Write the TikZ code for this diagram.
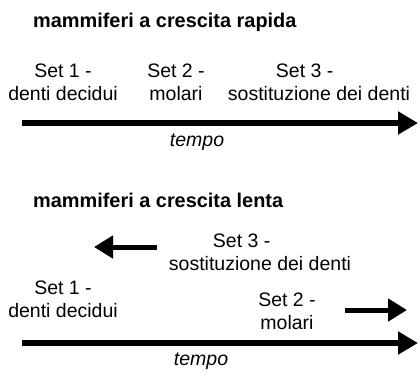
\documentclass[tikz,border=0pt]{standalone}
\usepackage{fontspec}
\setmainfont{Liberation Sans}
\usetikzlibrary{arrows.meta}
\begin{document}
\begin{tikzpicture}[x=1pt,y=-1pt,
  lbl/.style={inner sep=0pt,align=center,font=\fontsize{19.5}{23}\selectfont},
  ttl/.style={inner sep=0pt,anchor=base west,font=\fontsize{19.9}{23}\selectfont\bfseries},
  tmp/.style={inner sep=0pt,font=\fontsize{19.5}{23}\selectfont\itshape},
  bigarrow/.style={line width=5.5pt,-{Triangle[length=20pt,width=22pt]}},
  smallarrow/.style={line width=5pt,-{Triangle[length=19pt,width=22pt]}}]
\useasboundingbox (0,0) rectangle (420,376);
% top panel
\node[ttl] (title1) at (33,27) {mammiferi a crescita rapida};
\node[lbl] (a1) at (63,82) {Set 1 -\\denti decidui};
\node[lbl] (a2) at (176,82) {Set 2 -\\molari};
\node[lbl,align=left] (a3) at (319,82) {\hspace*{48pt}Set 3 -\\sostituzione dei denti};
\coordinate (t1s) at (22,123);
\coordinate (t1e) at (418,123);
\draw[bigarrow] (t1s) -- (t1e);
\node[tmp] (tempo1) at (197,142) {tempo};
% bottom panel
\node[ttl] (title2) at (33,207) {mammiferi a crescita lenta};
\node[lbl,align=left] (b3) at (260,252) {\hspace*{44pt}Set 3 -\\sostituzione dei denti};
\coordinate (l1s) at (157,247);
\coordinate (l1e) at (94,247);
\draw[smallarrow] (l1s) -- (l1e);
\node[lbl] (b1) at (63,299) {Set 1 -\\denti decidui};
\node[lbl] (b2) at (287,311) {Set 2 -\\molari};
\coordinate (r1s) at (345,310);
\coordinate (r1e) at (407,310);
\draw[smallarrow] (r1s) -- (r1e);
\coordinate (t2s) at (22,343);
\coordinate (t2e) at (418,343);
\draw[bigarrow] (t2s) -- (t2e);
\node[tmp] (tempo2) at (201,361) {tempo};
\end{tikzpicture}
\end{document}
